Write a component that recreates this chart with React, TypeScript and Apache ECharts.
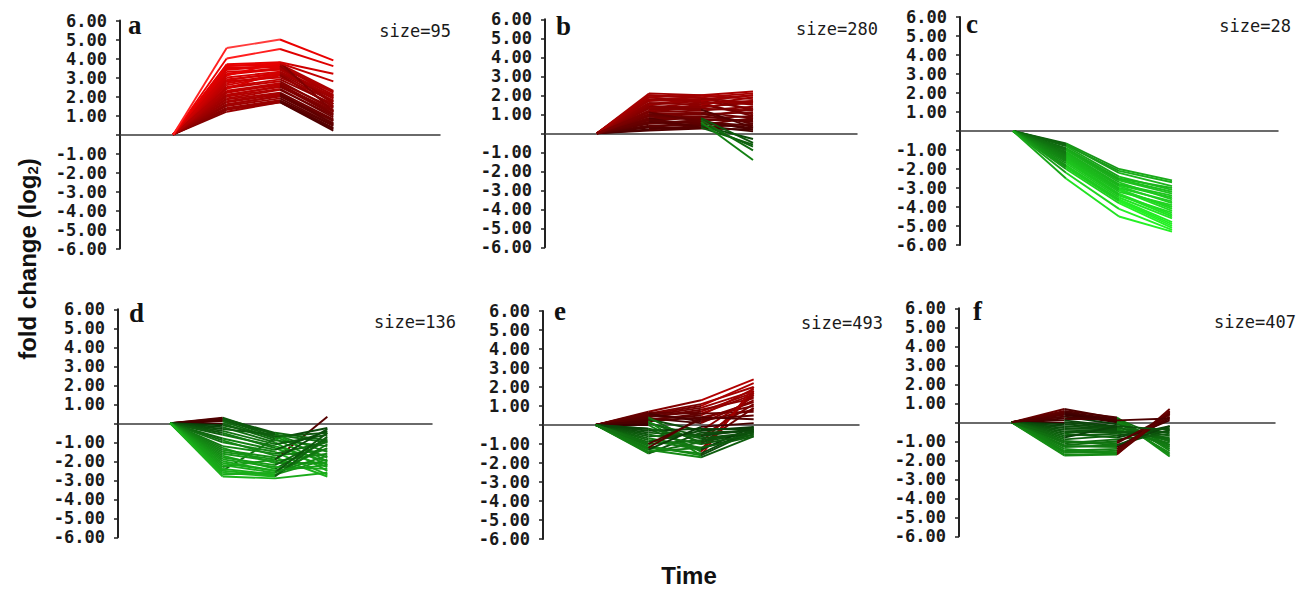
import React, { useEffect, useRef } from "react";
import * as echarts from "echarts";

// ---- data -------------------------------------------------------------
const timePoints = [1, 2, 3, 4];
const panelLetters = ["a", "b", "c", "d", "e", "f"];
const clusterSizes = [95, 280, 28, 136, 493, 407];

const clusterA: number[][] = [
  [0, 1.2, 1.7, 0.2],
  [0, 1.3, 1.7, 0.3],
  [0, 1.35, 1.75, 0.35],
  [0, 1.4, 1.8, 0.45],
  [0, 1.5, 1.9, 0.5],
  [0, 1.55, 2.05, 0.7],
  [0, 1.6, 2.0, 0.6],
  [0, 1.7, 2.1, 0.75],
  [0, 1.75, 2.15, 0.55],
  [0, 1.85, 2.2, 0.8],
  [0, 1.9, 2.35, 1.0],
  [0, 2.0, 2.4, 0.9],
  [0, 2.05, 2.55, 1.05],
  [0, 2.1, 2.5, 1.2],
  [0, 2.2, 2.65, 1.1],
  [0, 2.25, 2.6, 1.25],
  [0, 2.3, 2.7, 1.4],
  [0, 2.45, 2.8, 1.3],
  [0, 2.5, 2.9, 1.6],
  [0, 2.6, 3.1, 1.5],
  [0, 2.7, 3.15, 1.45],
  [0, 2.8, 3.0, 1.8],
  [0, 2.85, 3.25, 1.9],
  [0, 2.9, 3.2, 1.7],
  [0, 3.0, 3.3, 2.0],
  [0, 3.15, 3.45, 1.75],
  [0, 3.2, 3.5, 1.9],
  [0, 3.3, 3.4, 2.1],
  [0, 3.45, 3.65, 2.05],
  [0, 3.5, 3.55, 2.2],
  [0, 3.6, 3.7, 2.3],
  [0, 3.65, 3.6, 2.25],
  [0, 3.4, 3.6, 1.6],
  [0, 2.4, 3.3, 2.0],
  [0, 3.1, 3.8, 1.2],
  [0, 3.6, 3.75, 2.8],
  [0, 3.7, 3.8, 3.2],
  [0, 4.0, 4.5, 3.6],
  [0, 4.55, 5.0, 3.9],
];

const clusterB: number[][] = [
  [0, 0.15, 0.25, 0.2],
  [0, 0.2, 0.4, 0.1],
  [0, 0.3, 0.3, 0.5],
  [0, 0.35, 0.45, 0.8],
  [0, 0.4, 0.5, 0.3],
  [0, 0.5, 0.7, 0.7],
  [0, 0.55, 0.65, 0.2],
  [0, 0.6, 0.6, 0.4],
  [0, 0.7, 0.8, 0.9],
  [0, 0.75, 0.85, 1.3],
  [0, 0.8, 0.9, 0.6],
  [0, 0.9, 1.0, 1.1],
  [0, 0.95, 1.05, 0.5],
  [0, 1.0, 1.1, 0.8],
  [0, 1.1, 1.2, 1.4],
  [0, 1.15, 1.35, 1.7],
  [0, 1.2, 1.5, 1.0],
  [0, 1.3, 1.3, 1.2],
  [0, 1.35, 1.6, 0.9],
  [0, 1.4, 1.4, 1.6],
  [0, 1.45, 1.25, 0.3],
  [0, 1.5, 1.7, 1.3],
  [0, 1.55, 1.8, 2.0],
  [0, 1.6, 1.5, 1.9],
  [0, 1.7, 1.8, 1.5],
  [0, 1.75, 1.9, 1.2],
  [0, 1.9, 1.6, 1.7],
  [0, 1.8, 1.7, 2.0],
  [0, 1.9, 2.0, 1.8],
  [0, 2.0, 1.85, 1.6],
  [0, 2.0, 1.9, 2.1],
  [0, 2.1, 2.0, 2.2],
  [0, 0.6, 0.4, -0.3],
  [0, 0.8, 0.3, -0.6],
  [0, 0.7, 0.5, -0.7],
  [0, 0.9, 0.8, -0.5],
  [0, 1.0, 0.7, -0.9],
  [0, 1.1, 0.6, -1.4],
];

const clusterC: number[][] = [
  [0, -0.65, -2.0, -2.6],
  [0, -0.7, -2.2, -2.9],
  [0, -0.75, -2.1, -2.7],
  [0, -0.8, -2.4, -3.1],
  [0, -0.9, -2.5, -3.0],
  [0, -0.95, -2.55, -3.2],
  [0, -1.0, -2.6, -3.3],
  [0, -1.0, -2.7, -3.6],
  [0, -1.1, -2.8, -3.4],
  [0, -1.15, -2.85, -3.5],
  [0, -1.2, -2.9, -3.8],
  [0, -1.25, -3.0, -3.7],
  [0, -1.3, -3.1, -4.0],
  [0, -1.35, -3.05, -4.1],
  [0, -1.4, -3.1, -4.2],
  [0, -1.45, -3.2, -3.9],
  [0, -1.5, -3.3, -4.4],
  [0, -1.55, -3.35, -4.5],
  [0, -1.6, -3.4, -4.3],
  [0, -1.7, -3.5, -4.6],
  [0, -1.8, -3.6, -4.8],
  [0, -1.85, -3.65, -4.9],
  [0, -1.9, -3.7, -5.0],
  [0, -2.0, -3.8, -5.1],
  [0, -2.2, -4.1, -5.2],
  [0, -2.5, -4.5, -5.3],
];

const clusterD: number[][] = [
  [0, -2.3, -1.9, 0.35],
  [0, -2.5, -0.8, -0.25],
  [0, 0.3, -0.6, -1.5],
  [0, 0.25, -0.5, -0.9],
  [0, 0.2, -0.7, -1.8],
  [0, 0.15, -0.55, -2.0],
  [0, 0.1, -0.8, -2.2],
  [0, 0.0, -0.9, -1.2],
  [0, -0.1, -0.7, -0.5],
  [0, -0.2, -1.0, -2.5],
  [0, -0.3, -0.6, -1.0],
  [0, -0.4, -1.1, -0.6],
  [0, -0.5, -1.3, -2.3],
  [0, -0.6, -1.2, -2.0],
  [0, -0.8, -1.4, -0.4],
  [0, -0.9, -1.7, -1.4],
  [0, -1.0, -1.5, -2.7],
  [0, -1.2, -1.6, -1.0],
  [0, -1.3, -2.1, -2.1],
  [0, -1.4, -1.8, -2.8],
  [0, -1.5, -1.9, -0.3],
  [0, -1.6, -2.0, -1.6],
  [0, -1.7, -2.4, -0.9],
  [0, -1.8, -2.2, -0.8],
  [0, -1.9, -2.3, -2.4],
  [0, -2.0, -2.5, -1.3],
  [0, -2.1, -2.5, -2.2],
  [0, -2.2, -2.6, -0.5],
  [0, -2.4, -2.7, -1.9],
  [0, -2.5, -2.75, -1.1],
  [0, -2.6, -2.8, -0.7],
  [0, -2.7, -2.6, -1.7],
  [0, -2.8, -2.9, -2.6],
];

const clusterE: number[][] = [
  [0, 0.7, 1.3, 2.4],
  [0, 0.6, 1.1, 2.0],
  [0, 0.55, 1.0, 2.2],
  [0, 0.5, 0.9, 1.8],
  [0, 0.45, 0.7, 1.7],
  [0, 0.65, 0.6, 1.6],
  [0, 0.4, 0.8, 1.4],
  [0, 0.35, 0.1, 1.3],
  [0, 0.3, 0.5, 1.9],
  [0, 0.5, 0.3, 1.2],
  [0, 0.25, 0.6, 0.7],
  [0, 0.2, 0.4, 1.0],
  [0, 0.6, 0.2, 0.8],
  [0, 0.3, -0.3, 1.5],
  [0, 0.1, -0.6, 1.1],
  [0, 0.15, -0.9, 1.6],
  [0, 0.4, -1.0, 0.9],
  [0, 0.0, -1.4, 1.8],
  [0, -0.2, -1.3, 1.7],
  [0, 0.2, -1.6, 2.0],
  [0, -1.5, -0.4, -0.3],
  [0, -1.45, -0.9, -0.4],
  [0, -1.4, -1.2, -0.5],
  [0, -1.3, -1.7, -0.6],
  [0, -1.2, -1.5, -0.2],
  [0, -1.1, -1.6, -0.3],
  [0, -1.0, -0.8, -0.4],
  [0, -0.8, -1.3, -0.1],
  [0, -0.7, -1.2, -0.6],
  [0, -0.6, -0.5, -0.3],
  [0, -0.5, -1.0, -0.5],
  [0, -0.4, -0.6, -0.2],
  [0, -0.3, -0.2, -0.2],
  [0, -0.2, -0.7, -0.4],
  [0, -0.9, -0.3, -0.1],
  [0, -1.3, -0.1, 0.1],
  [0, -1.2, 0.4, 0.3],
  [0, -1.0, 0.3, 0.5],
];

const clusterF: number[][] = [
  [0, 0.7, 0.2, -1.8],
  [0, 0.6, 0.25, -1.5],
  [0, 0.55, 0.15, -1.7],
  [0, 0.5, 0.1, -1.2],
  [0, 0.45, 0.05, -1.4],
  [0, 0.4, 0.0, -1.6],
  [0, 0.3, -0.1, -0.9],
  [0, 0.2, 0.2, -1.0],
  [0, 0.1, -0.2, -1.3],
  [0, 0.0, -0.25, -1.0],
  [0, -0.1, -0.3, -0.7],
  [0, -0.2, -0.35, -1.2],
  [0, -0.3, -0.4, -1.1],
  [0, -0.4, -0.45, -0.9],
  [0, -0.5, -0.5, -0.5],
  [0, -0.6, -0.8, -0.2],
  [0, -0.7, -0.6, -0.8],
  [0, -0.9, -0.7, -0.3],
  [0, -1.0, -1.2, -0.4],
  [0, -1.1, -0.9, -0.6],
  [0, -1.2, -1.0, 0.1],
  [0, -1.25, -1.3, 0.2],
  [0, -1.3, -1.2, -0.2],
  [0, -1.5, -1.4, 0.3],
  [0, -1.55, -1.6, 0.55],
  [0, -1.6, -1.5, 0.5],
  [0, -1.7, -1.65, 0.45],
  [0, -1.75, -1.7, 0.7],
  [0, -1.4, -1.6, 0.6],
  [0, -1.0, -1.1, 0.4],
  [0, -0.8, -0.2, -0.4],
  [0, 0.3, 0.1, 0.2],
];

const clusters = [clusterA, clusterB, clusterC, clusterD, clusterE, clusterF];

// ---- layout (positions/styles) ---------------------------------------
const grids = [
  { left: 120, top: 20.5, width: 320, height: 228 },
  { left: 545, top: 19.3, width: 312, height: 228 },
  { left: 960, top: 17, width: 318, height: 228 },
  { left: 118, top: 309.3, width: 314, height: 228 },
  { left: 543, top: 311, width: 316, height: 228 },
  { left: 959, top: 308.3, width: 316, height: 228 },
];
const letterPos = [
  [128, 25], [556, 26], [966, 24], [129, 313], [554, 311], [973, 311],
];
const sizePos = [
  [451, 31], [878, 29], [1291, 26], [456, 322], [883, 323], [1296, 322],
];

function segColor(v: number): string {
  if (v >= 0) {
    const t = Math.min(v / 4.5, 1);
    const r = Math.round(60 + 195 * Math.pow(t, 0.8));
    const w = v > 4 ? Math.round(Math.min((v - 4) * 60, 60)) : 0;
    return `rgb(${r},${w},${w})`;
  }
  const t = Math.min(-v / 5, 1);
  const g = Math.round(50 + 190 * Math.pow(t, 0.7));
  const rb = Math.round(g * 0.15);
  return `rgb(${rb},${g},${rb})`;
}

export default function App() {
  const ref = useRef<HTMLDivElement>(null);
  useEffect(() => {
    document.body.style.margin = "0";
    if (!ref.current) return;
    const chart = echarts.init(ref.current, undefined, { renderer: "svg" });

    const xAxis = grids.map((_, i) => ({
      gridIndex: i,
      type: "value",
      min: 0,
      max: 6,
      axisLine: { show: true, onZero: true, lineStyle: { color: "#3a3a3a", width: 1.5 } },
      axisTick: { show: false },
      axisLabel: { show: false },
      splitLine: { show: false },
    }));
    const yAxis = grids.map((_, i) => ({
      gridIndex: i,
      type: "value",
      min: -6,
      max: 6,
      interval: 1,
      axisLine: { show: true, onZero: false, lineStyle: { color: "#222", width: 2 } },
      axisTick: { show: true, length: 4, lineStyle: { color: "#222", width: 1.5 } },
      splitLine: { show: false },
      axisLabel: {
        show: true,
        showMinLabel: true,
        showMaxLabel: true,
        margin: 13,
        padding: [4, 0, 0, 0],
        fontFamily: "DejaVu Sans Mono",
        fontWeight: "bold",
        fontSize: 17,
        color: "#1a1a1a",
        formatter: (v: number) => (v === 0 ? "" : v.toFixed(2)),
      },
    }));

    const series = clusters.map((rows, i) => {
      const data: any[] = [];
      rows.forEach((row) => {
        for (let k = 0; k < row.length - 1; k++) {
          data.push({
            coords: [
              [timePoints[k], row[k]],
              [timePoints[k + 1], row[k + 1]],
            ],
            lineStyle: { color: segColor(row[k + 1]) },
          });
        }
      });
      return {
        type: "lines",
        coordinateSystem: "cartesian2d",
        xAxisIndex: i,
        yAxisIndex: i,
        polyline: false,
        silent: true,
        lineStyle: { width: 1.9, opacity: 1 },
        data,
      };
    });

    const graphic: any[] = [];
    panelLetters.forEach((l, i) => {
      graphic.push({
        type: "text",
        x: letterPos[i][0],
        y: letterPos[i][1],
        silent: true,
        style: {
          text: l,
          fontFamily: "Liberation Serif",
          fontWeight: "bold",
          fontSize: 27,
          fill: "#111",
          align: "left",
          verticalAlign: "middle",
        },
      });
      graphic.push({
        type: "text",
        x: sizePos[i][0],
        y: sizePos[i][1],
        silent: true,
        style: {
          text: "size=" + clusterSizes[i],
          fontFamily: "DejaVu Sans Mono",
          fontSize: 17,
          fill: "#1a1a1a",
          align: "right",
          verticalAlign: "middle",
        },
      });
    });
    graphic.push({
      type: "text",
      x: 27,
      y: 259,
      rotation: Math.PI / 2,
      silent: true,
      style: {
        text: "{m|fold change (log}{s|2}{m|)}",
        align: "center",
        verticalAlign: "middle",
        rich: {
          m: {
            fontFamily: "Liberation Sans",
            fontWeight: "bold",
            fontSize: 24,
            lineHeight: 26,
            fill: "#111",
            verticalAlign: "middle",
          },
          s: {
            fontFamily: "Liberation Sans",
            fontWeight: "bold",
            fontSize: 15,
            lineHeight: 12,
            fill: "#111",
            verticalAlign: "bottom",
          },
        },
      },
    });
    graphic.push({
      type: "text",
      x: 689,
      y: 575,
      silent: true,
      style: {
        text: "Time",
        fontFamily: "Liberation Sans",
        fontWeight: "bold",
        fontSize: 24,
        fill: "#111",
        align: "center",
        verticalAlign: "middle",
      },
    });

    chart.setOption({
      animation: false,
      backgroundColor: "#ffffff",
      grid: grids.map((g) => ({ ...g, containLabel: false })),
      xAxis,
      yAxis,
      series,
      graphic,
    });
    return () => chart.dispose();
  }, []);
  return <div ref={ref} style={{ width: 1308, height: 590 }} />;
}
